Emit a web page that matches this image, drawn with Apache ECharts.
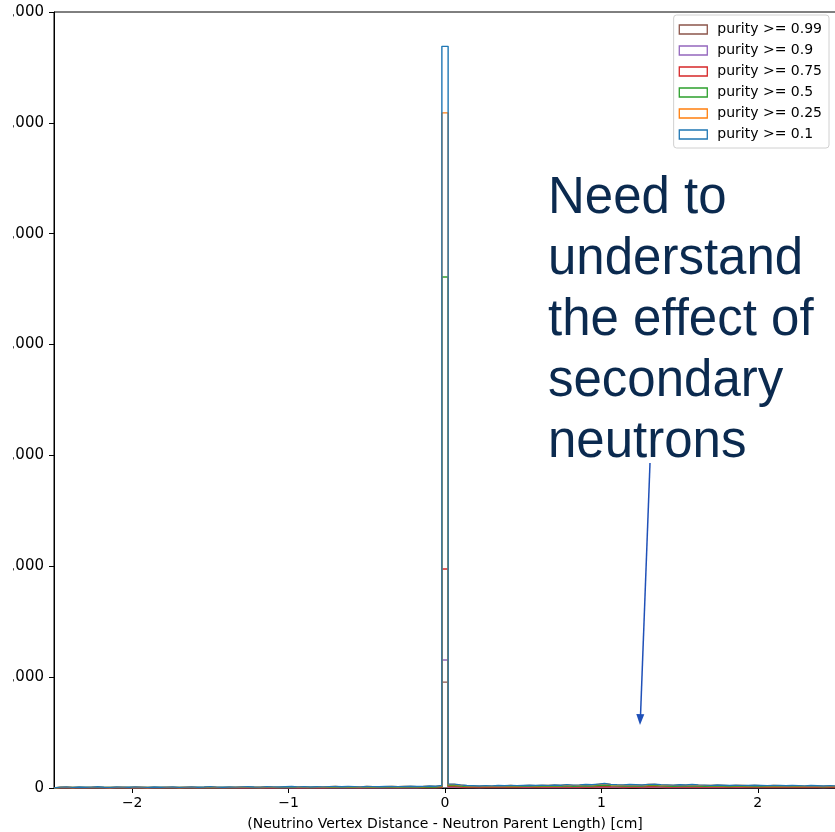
<!DOCTYPE html>
<html>
<head>
<meta charset="utf-8">
<script src="https://cdn.jsdelivr.net/npm/echarts@6/dist/echarts.min.js"></script>
<style>html,body{margin:0;padding:0;background:#fff;}#c{width:835px;height:832px;}</style>
</head>
<body>
<div id="c"></div>
<script>
// Histogram binning
const binStart = -2.5;
const binWidth = 0.04;
const xTicks = [-2, -1, 0, 1, 2];
const yTicks = [0, 1000, 2000, 3000, 4000, 5000, 6000, 7000];
const seriesNames = ['purity >= 0.99', 'purity >= 0.9', 'purity >= 0.75', 'purity >= 0.5', 'purity >= 0.25', 'purity >= 0.1'];
const seriesColors = ['#8c564b', '#9467bd', '#d62728', '#2ca02c', '#ff7f0e', '#1f77b4'];

// counts per bin (125 bins, -2.5 .. 2.5)
const p099 = [1,1,0,1,0,1,1,0,0,1,1,0,1,0,0,1,0,1,1,0,1,1,0,1,1,1,0,1,1,1,1,1,0,1,1,1,1,1,1,1,1,1,1,1,2,1,1,1,1,2,1,1,2,2,1,2,2,2,2,3,2,4,
  955,
  6,4,3,3,2,3,3,3,3,4,3,3,4,3,4,3,4,4,4,3,4,5,4,5,6,5,4,4,5,4,4,5,5,4,4,4,4,4,5,4,4,3,4,4,3,4,3,3,4,3,3,3,3,3,3,3,3,3,3,2,3,3];
const p09 = [1,1,1,1,1,1,1,1,0,1,1,1,1,1,0,1,1,1,1,1,1,1,1,1,2,1,1,1,1,1,2,1,1,2,1,1,2,2,1,2,1,2,1,2,2,2,2,2,1,2,2,2,2,3,2,2,3,2,3,3,3,5,
  1155,
  8,6,4,4,4,4,4,4,4,5,4,5,5,4,5,5,5,5,6,5,5,6,6,7,8,6,6,5,6,6,5,6,7,6,5,5,6,5,6,5,5,5,5,5,4,5,5,4,5,4,4,5,4,4,4,4,4,4,4,3,4,4];
const p075 = [2,2,1,2,1,2,2,1,1,2,2,1,2,2,1,2,1,2,2,1,2,2,1,2,3,2,1,2,2,2,3,2,2,3,2,2,3,3,2,3,2,3,2,3,3,3,3,3,2,3,3,3,3,4,3,3,4,3,4,4,4,7,
  1975,
  12,9,7,7,6,7,6,7,7,8,7,8,8,7,8,8,9,8,10,8,9,10,9,11,13,11,10,9,10,9,9,11,11,10,9,8,9,9,10,9,8,8,9,8,7,8,8,7,8,7,7,8,7,6,7,7,6,7,6,6,7,6];
const p05 = [5,6,4,5,4,5,6,4,4,5,5,4,6,5,4,5,4,5,5,4,5,6,4,5,7,5,4,5,5,6,6,5,5,7,6,5,6,8,6,7,5,6,6,7,8,6,8,7,6,8,7,6,8,9,7,8,9,8,9,11,9,13,
  4610,
  22,18,14,13,12,13,12,14,13,15,13,15,16,14,16,15,17,16,19,16,18,20,18,22,25,21,19,18,19,18,17,21,22,19,18,16,18,17,19,18,16,15,17,16,14,16,15,14,16,14,13,15,14,12,14,13,12,14,12,11,13,12];
const p025 = [7,9,5,8,6,7,10,6,5,8,7,6,9,7,5,8,6,7,8,5,7,9,6,8,11,7,6,8,7,9,10,8,7,11,9,8,10,12,9,11,8,10,9,11,13,10,12,11,9,13,11,10,12,14,11,13,15,12,14,17,15,20,
  6090,
  32,26,20,18,17,19,17,20,18,22,19,21,23,20,24,22,25,23,28,24,26,30,27,33,38,31,28,26,29,27,25,31,33,28,26,24,27,25,29,26,24,22,25,23,21,24,22,20,23,21,19,22,20,18,21,19,17,20,18,16,19,17];
const p01 = [8,10,6,9,7,8,11,7,6,9,8,7,10,8,6,9,7,8,9,6,8,10,7,9,12,8,7,9,8,10,11,9,8,12,10,9,11,13,10,12,9,11,10,12,14,11,13,12,10,14,12,11,13,15,12,14,16,13,15,18,16,22,
  6690,
  35,28,22,20,18,21,19,22,20,24,21,23,25,22,26,24,27,25,30,26,28,32,29,35,40,33,30,28,31,29,27,33,35,30,28,26,29,27,31,28,26,24,27,25,23,26,24,22,25,23,21,24,22,20,23,21,19,22,20,18,21,19];
const seriesCounts = [p099, p09, p075, p05, p025, p01];

const annotationLines = ['Need to', 'understand', 'the effect of', 'secondary', 'neutrons'];

function stepData(counts) {
  const pts = [[binStart, 0]];
  for (let k = 0; k < counts.length; k++) {
    pts.push([binStart + binWidth * k, counts[k]]);
  }
  const end = binStart + binWidth * counts.length;
  pts.push([end, counts[counts.length - 1]]);
  pts.push([end, 0]);
  return pts;
}

const chart = echarts.init(document.getElementById('c'), null, {renderer: 'canvas'});
const font = 'DejaVu Sans';

const series = seriesNames.map((n, i) => ({
  name: n,
  type: 'line',
  step: 'end',
  data: stepData(seriesCounts[i]),
  showSymbol: false,
  symbol: 'none',
  lineStyle: {color: seriesColors[i], width: 1.4},
  itemStyle: {color: seriesColors[i]},
  z: 2 + i,
  animation: false
}));

const option = {
  animation: false,
  backgroundColor: '#fff',
  grid: {left: 54, right: -1, top: 12, bottom: 44, outerBoundsMode: 'none', containLabel: false,
    show: true, borderColor: '#000', borderWidth: 1, backgroundColor: 'transparent'},
  xAxis: {
    type: 'value', min: binStart, max: binStart + binWidth * p01.length,
    name: '(Neutrino Vertex Distance - Neutron Parent Length) [cm]',
    nameLocation: 'middle', nameGap: 29,
    nameTextStyle: {fontFamily: font, fontSize: 14, color: '#000'},
    axisLine: {show: true, onZero: false, lineStyle: {color: '#000', width: 1}},
    axisTick: {show: true, inside: false, length: 5, lineStyle: {color: '#000'}, customValues: xTicks},
    axisLabel: {fontFamily: font, fontSize: 14, color: '#000', margin: 8, customValues: xTicks,
      formatter: v => v < 0 ? '\u2212' + Math.abs(v) : String(v)},
    splitLine: {show: false}
  },
  yAxis: {
    type: 'value', min: 0, max: 7000,
    axisLine: {show: true, onZero: false, lineStyle: {color: '#000', width: 1}},
    axisTick: {show: true, inside: false, length: 5, lineStyle: {color: '#000'}, customValues: yTicks},
    axisLabel: {fontFamily: font, fontSize: 15, color: '#000', margin: 10, customValues: yTicks},
    splitLine: {show: false}
  },
  legend: {
    right: 6, top: 15, orient: 'vertical',
    backgroundColor: '#fff', borderColor: '#d0d0d0', borderWidth: 1, borderRadius: 3,
    padding: [6, 7, 5, 5],
    itemWidth: 28, itemHeight: 9, itemGap: 4,
    textStyle: {fontFamily: font, fontSize: 14, color: '#000', lineHeight: 17, padding: [0, 0, 0, 5]},
    data: seriesNames.map((n, i) => ({name: n, icon: 'rect', itemStyle: {color: '#fff', borderColor: seriesColors[i], borderWidth: 1.3}}))
  },
  graphic: [
    {type: 'rect', shape: {x: 0, y: 0, width: 13, height: 775}, style: {fill: '#fff'}, z: 100},
    {type: 'text', left: 548, top: 168, z: 50,
      style: {text: annotationLines.join('\n'), fill: '#0b2a4f', font: '51px "Liberation Sans"', lineHeight: 61}},
    {type: 'line', shape: {x1: 650, y1: 463, x2: 640.5, y2: 716}, style: {stroke: '#1f50b8', lineWidth: 1.5}, z: 50},
    {type: 'polygon', shape: {points: [[640, 725], [636.3, 714], [644.3, 714.3]]}, style: {fill: '#1f50b8'}, z: 50}
  ],
  series: series
};
chart.setOption(option);
</script>
</body>
</html>
